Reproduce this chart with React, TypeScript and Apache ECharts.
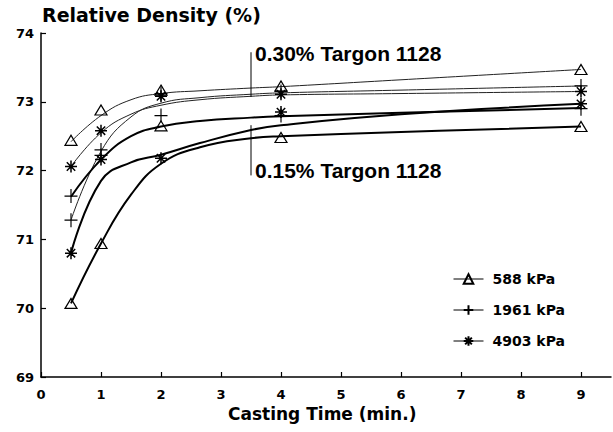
import React, { useEffect, useRef } from "react";
import * as echarts from "echarts";

// ---- data ----
const markX = [0.5, 1, 2, 4, 9];
const tri030 = [72.44, 72.88, 73.17, 73.23, 73.47];
const tri015 = [70.07, 70.94, 72.65, 72.48, 72.64];
const plus030 = [71.28, 72.3, 73.12, 73.15, 73.23];
const plus015 = [71.63, 72.22, 72.8, 72.8, 72.9];
const star030 = [72.06, 72.58, 73.08, 73.11, 73.15];
const star015 = [70.8, 72.16, 72.18, 72.85, 72.97];

// fitted curves
const curveX = [0.5, 1, 1.5, 2, 2.65, 3.5, 4, 6, 9];
const curveT030 = [72.42, 72.8, 73.03, 73.12, 73.16, 73.2, 73.22, 73.32, 73.47];
const curveS030 = [72.06, 72.55, 72.82, 72.95, 73.03, 73.08, 73.1, 73.12, 73.15];
const curveP030 = [71.28, 72.28, 72.78, 72.98, 73.06, 73.11, 73.13, 73.17, 73.23];
const curveP015 = [71.62, 72.16, 72.5, 72.64, 72.72, 72.77, 72.79, 72.84, 72.91];
const curveS015 = [70.8, 71.85, 72.12, 72.23, 72.4, 72.59, 72.66, 72.82, 72.97];
const curveT015 = [70.07, 70.94, 71.65, 72.1, 72.34, 72.47, 72.5, 72.56, 72.64];

const legendNames = ["588 kPa", "1961 kPa", "4903 kPa"];
const xTicks = [0, 1, 2, 3, 4, 5, 6, 7, 8, 9];
const annotX = 3.5;
const annotTop = [73.07, 73.72];
const annotBottom = [72.66, 71.93];
const annotTexts = ["0.30% Targon 1128", "0.15% Targon 1128"];

const TRI = "path://M0,-1 L1,0.8 L-1,0.8 Z";
const PLUS = "path://M-1,0 L1,0 M0,-1 L0,1";
const STAR =
  "path://M-1,0 L1,0 M0,-1 L0,1 M-0.7,-0.7 L0.7,0.7 M0.7,-0.7 L-0.7,0.7";

const zip = (xs: number[], ys: number[]) => xs.map((x, i) => [x, ys[i]]);

export default function App() {
  const ref = useRef<HTMLDivElement>(null);
  useEffect(() => {
    document.body.style.margin = "0";
    const chart = echarts.init(ref.current!, null, { renderer: "svg" });
    const curve = (id: string, ys: number[], width: number) => ({
      type: "line",
      id,
      name: id,
      data: zip(curveX, ys),
      smooth: 0.45,
      showSymbol: false,
      symbol: "none",
      silent: true,
      lineStyle: { color: width > 1.2 ? "#000" : "#222", width },
      z: 2,
    });
    const marks = (
      name: string,
      ys: number[],
      symbol: string,
      size: number[],
      bw: number
    ) => ({
      type: "line",
      name,
      data: zip(markX, ys),
      symbol,
      symbolSize: size,
      showSymbol: true,
      lineStyle: { width: 0, opacity: 0 },
      itemStyle: {
        color: "rgba(0,0,0,0)",
        borderColor: "#000",
        borderWidth: bw,
      },
      z: 3,
    });
    const vline = (ys: number[]) => ({
      type: "line",
      data: ys.map((y) => [annotX, y]),
      symbol: "none",
      silent: true,
      lineStyle: { color: "#000", width: 1 },
      z: 2,
    });
    chart.setOption({
      animation: false,
      backgroundColor: "#fff",
      grid: { left: 41, right: 2, top: 33, bottom: 55 },
      xAxis: {
        type: "value",
        min: 0,
        max: 9.5,
        interval: 1,
        axisLine: { lineStyle: { color: "#000", width: 1.5 } },
        axisTick: {
          inside: true,
          length: 5,
          customValues: xTicks,
          lineStyle: { color: "#000", width: 1.2 },
        },
        axisLabel: {
          customValues: xTicks,
          margin: 11,
          color: "#000",
          fontFamily: "DejaVu Sans",
          fontWeight: "bold",
          fontSize: 13,
          formatter: (v: number) => (Number.isInteger(v) ? String(v) : ""),
        },
        splitLine: { show: false },
      },
      yAxis: {
        type: "value",
        min: 69,
        max: 74,
        interval: 1,
        axisLine: { show: true, lineStyle: { color: "#000", width: 1.5 } },
        axisTick: {
          show: true,
          inside: true,
          length: 5,
          lineStyle: { color: "#000", width: 1.2 },
        },
        axisLabel: {
          margin: 7,
          color: "#000",
          fontFamily: "DejaVu Sans",
          fontWeight: "bold",
          fontSize: 13,
        },
        splitLine: { show: false },
      },
      legend: {
        data: legendNames,
        orient: "vertical",
        left: 448,
        top: 267,
        itemWidth: 30,
        itemHeight: 12,
        itemGap: 17,
        selectedMode: false,
        lineStyle: { color: "#000", width: 1, opacity: 1, type: "solid" },
        textStyle: {
          color: "#000",
          fontFamily: "DejaVu Sans",
          fontWeight: "bold",
          fontSize: 14,
          padding: [0, 0, 0, 4],
        },
      },
      graphic: [
        {
          type: "text",
          left: 42,
          top: 5,
          style: {
            text: "Relative Density (%)",
            fontFamily: "DejaVu Sans",
            fontWeight: "bold",
            fontSize: 19,
            fill: "#000",
          },
        },
        {
          type: "text",
          left: 228,
          top: 405,
          style: {
            text: "Casting Time (min.)",
            fontFamily: "DejaVu Sans",
            fontWeight: "bold",
            fontSize: 17,
            fill: "#000",
          },
        },
        {
          type: "text",
          left: 255,
          top: 43,
          style: {
            text: annotTexts[0],
            fontFamily: "Liberation Sans",
            fontWeight: "bold",
            fontSize: 21,
            fill: "#000",
          },
        },
        {
          type: "text",
          left: 255,
          top: 160,
          style: {
            text: annotTexts[1],
            fontFamily: "Liberation Sans",
            fontWeight: "bold",
            fontSize: 21,
            fill: "#000",
          },
        },
      ],
      series: [
        curve("cT030", curveT030, 1),
        curve("cS030", curveS030, 1),
        curve("cP030", curveP030, 1),
        curve("cP015", curveP015, 2),
        curve("cS015", curveS015, 2),
        curve("cT015", curveT015, 2),
        vline(annotTop),
        vline(annotBottom),
        marks(legendNames[0], tri030, TRI, [12, 10], 1.2),
        marks(legendNames[0], tri015, TRI, [12, 10], 1.2),
        marks(legendNames[1], plus030, PLUS, [13, 14], 1.2),
        marks(legendNames[1], plus015, PLUS, [13, 14], 1.2),
        marks(legendNames[2], star030, STAR, [12, 12], 1.5),
        marks(legendNames[2], star015, STAR, [12, 12], 1.5),
      ],
    });
    return () => chart.dispose();
  }, []);
  return <div ref={ref} style={{ width: 613, height: 432 }} />;
}
